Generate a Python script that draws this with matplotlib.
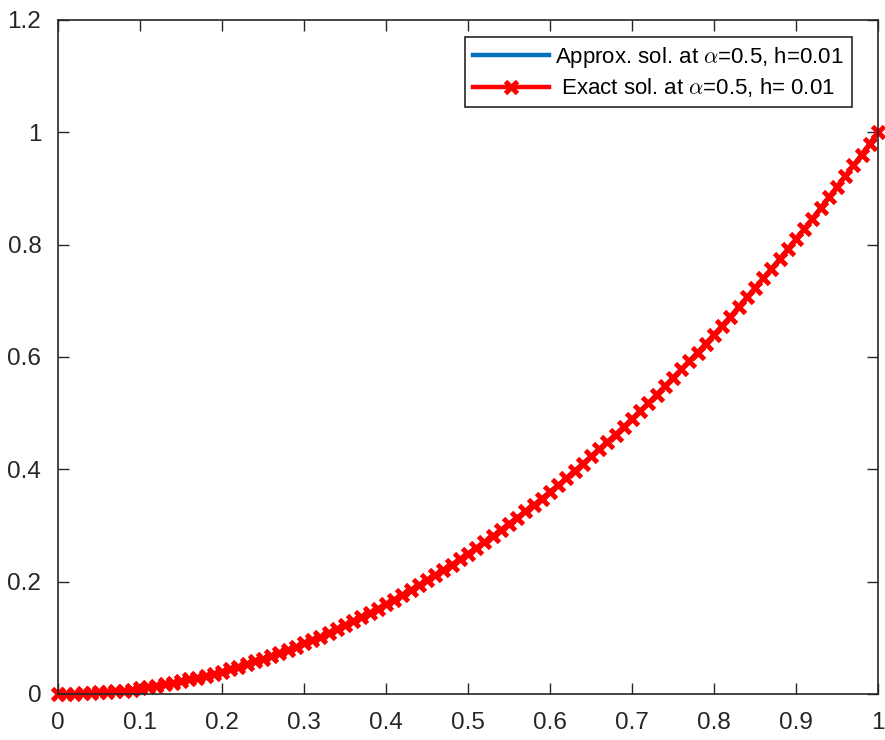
#!/usr/bin/env python3
"""Approx vs exact solution at alpha=0.5, h=0.01 (MATLAB-style look)."""
import matplotlib
matplotlib.use("Agg")
import matplotlib.pyplot as plt

plt.rcParams["font.family"] = ["Liberation Sans", "DejaVu Sans"]
plt.rcParams["mathtext.fontset"] = "cm"

# grid points x_i = i*h, h = 0.01
x_vals = [i / 100 for i in range(101)]

# values (approx and exact overlap everywhere)
exact_y = [
    0.000, 0.000, 0.000, 0.001, 0.002, 0.003, 0.004, 0.005, 0.006, 0.008,
    0.010, 0.012, 0.014, 0.017, 0.020, 0.023, 0.026, 0.029, 0.032, 0.036,
    0.040, 0.044, 0.048, 0.053, 0.058, 0.063, 0.068, 0.073, 0.078, 0.084,
    0.090, 0.096, 0.102, 0.109, 0.116, 0.123, 0.130, 0.137, 0.144, 0.152,
    0.160, 0.168, 0.176, 0.185, 0.194, 0.203, 0.212, 0.221, 0.230, 0.240,
    0.250, 0.260, 0.270, 0.281, 0.292, 0.303, 0.314, 0.325, 0.336, 0.348,
    0.360, 0.372, 0.384, 0.397, 0.410, 0.423, 0.436, 0.449, 0.462, 0.476,
    0.490, 0.504, 0.518, 0.533, 0.548, 0.563, 0.578, 0.593, 0.608, 0.624,
    0.640, 0.656, 0.672, 0.689, 0.706, 0.723, 0.740, 0.757, 0.774, 0.792,
    0.810, 0.828, 0.846, 0.865, 0.884, 0.903, 0.922, 0.941, 0.960, 0.980,
    1.000,
]
approx_y = list(exact_y)

x_ticks = [0, 0.1, 0.2, 0.3, 0.4, 0.5, 0.6, 0.7, 0.8, 0.9, 1]
x_ticklabels = ["0", "0.1", "0.2", "0.3", "0.4", "0.5", "0.6", "0.7", "0.8", "0.9", "1"]
y_ticks = [0, 0.2, 0.4, 0.6, 0.8, 1.0, 1.2]
y_ticklabels = ["0", "0.2", "0.4", "0.6", "0.8", "1", "1.2"]

fig = plt.figure(figsize=(8.85, 7.4), dpi=100)
ax = fig.add_axes([58 / 885, 46 / 740, 820 / 885, 674 / 740])

ax.plot(x_vals, approx_y, color="#0072BD", linewidth=3.2, clip_on=False,
        label=r"Approx. sol. at $\alpha$=0.5, h=0.01")
ax.plot(x_vals, exact_y, color="#FF0000", linewidth=3.2, marker="x",
        markersize=8.5, markeredgewidth=3.5, clip_on=False,
        label=r" Exact sol. at $\alpha$=0.5, h= 0.01")

ax.set_xlim(0, 1)
ax.set_ylim(0, 1.2)
ax.set_xticks(x_ticks)
ax.set_xticklabels(x_ticklabels)
ax.set_yticks(y_ticks)
ax.set_yticklabels(y_ticklabels)
ax.tick_params(direction="in", top=True, right=True, length=8,
               width=1, colors="#262626", labelsize=17.5)
ax.tick_params(axis="x", pad=13)
ax.tick_params(axis="y", pad=12)
for s in ax.spines.values():
    s.set_color("#262626"); s.set_linewidth(1.2)

# legend corner placed where the reference box sits
leg = ax.legend(loc="upper right", bbox_to_anchor=(0.968, 0.975),
                fontsize=16, handlelength=3.4,
                fancybox=False, framealpha=1, edgecolor="#262626",
                borderaxespad=0, labelspacing=0.3, borderpad=0.35,
                handletextpad=0.3, markerscale=1.0)
leg.get_frame().set_linewidth(1.2)

fig.savefig("out.png", dpi=100)
